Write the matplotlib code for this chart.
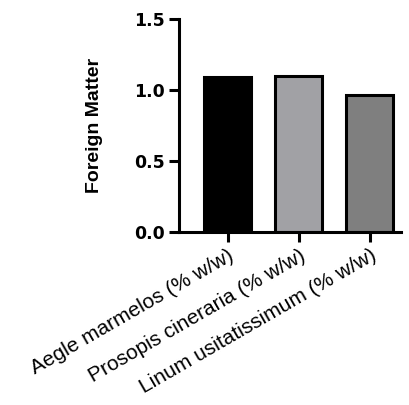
import matplotlib.pyplot as plt

categories = ["Aegle marmelos (% w/w)", "Prosopis cineraria (% w/w)", "Linum usitatissimum (% w/w)"]
values = [1.09, 1.10, 0.965]
colors = ["#000000", "#a1a1a5", "#7f7f7f"]

fig = plt.figure(figsize=(4.1, 4.05), dpi=100)
ax = fig.add_axes([0.437, 0.427, 0.54, 0.526])

x = range(len(categories))
ax.bar(x, values, width=0.66, color=colors, edgecolor="black", linewidth=2.2)

ax.set_xlim(-0.68, 2.43)
ax.set_ylim(0, 1.5)
ax.set_yticks([0.0, 0.5, 1.0, 1.5])
ax.set_yticklabels(["0.0", "0.5", "1.0", "1.5"], fontfamily="DejaVu Sans",
                   fontweight="bold", fontsize=12.5)
ax.set_xticks(list(x))
ax.set_xticklabels(categories, rotation=30, ha="right", rotation_mode="anchor",
                   fontfamily="Liberation Sans", fontsize=15)
ax.set_ylabel("Foreign Matter", fontfamily=["Liberation Sans Narrow", "Liberation Sans"],
              fontweight="bold", fontsize=14, labelpad=22)

for side in ["top", "right"]:
    ax.spines[side].set_visible(False)
ax.spines["left"].set_linewidth(2.2)
ax.spines["bottom"].set_linewidth(2.2)
ax.tick_params(axis="both", width=2.2, length=7, color="black")
ax.tick_params(axis="x", pad=3)

plt.savefig("out.png", dpi=100)
plt.close()
